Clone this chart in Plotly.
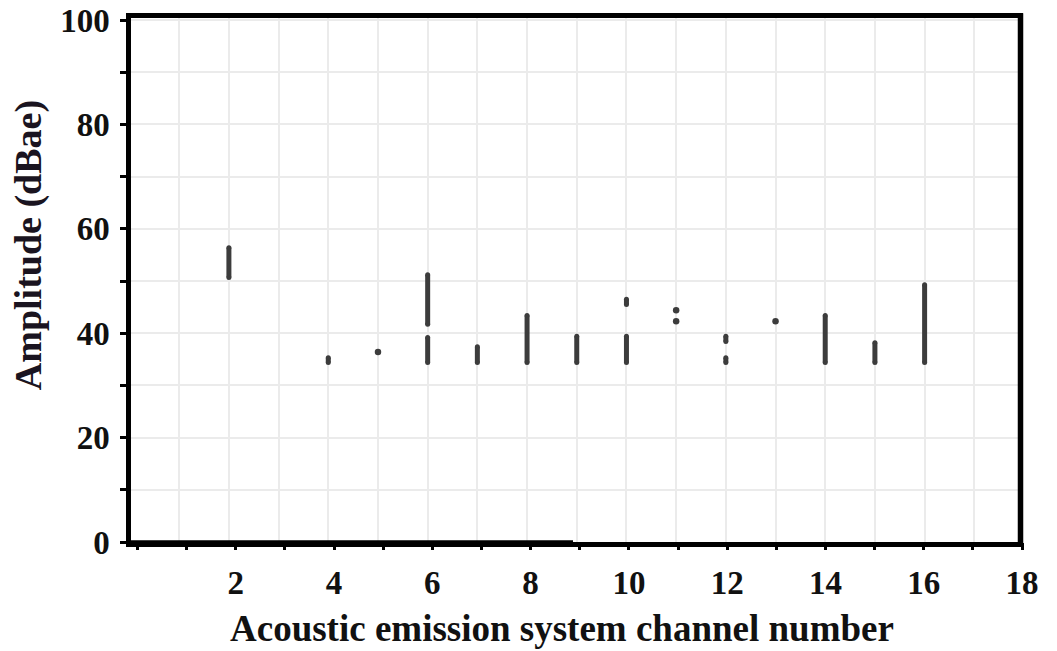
import plotly.graph_objects as go

# Amplitude bands recorded on each acoustic emission channel (dBae).
# Each entry is one continuous band: channel, lowest hit, highest hit.
band_channel = [2, 4, 6, 6, 7, 8, 9, 10, 10, 12, 12, 14, 15, 16]
band_low = [50.7, 34.4, 41.7, 34.4, 34.4, 34.4, 34.4, 34.4, 45.5, 34.4, 38.4, 34.4, 34.4, 34.4]
band_high = [56.4, 35.3, 51.2, 39.2, 37.4, 43.4, 39.4, 39.4, 46.5, 35.3, 39.4, 43.4, 38.2, 49.3]

# Isolated single hits
dot_channel = [5, 11, 11, 13]
dot_amp = [36.4, 44.4, 42.3, 42.3]

x_tick_vals = [2, 4, 6, 8, 10, 12, 14, 16, 18]
x_minor_vals = list(range(0, 19))
y_tick_vals = [0, 10, 20, 30, 40, 50, 60, 70, 80, 90, 100]
y_tick_text = ["0", "", "20", "", "40", "", "60", "", "80", "", "100"]

x_title = "Acoustic emission system channel number"
y_title = "Amplitude (dBae)"

MARK = "#3c3c3c"
FONT = "Liberation Serif"

seg_x, seg_y = [], []
cap_x, cap_y = [], []
for c, lo, hi in zip(band_channel, band_low, band_high):
    seg_x += [c, c, None]
    seg_y += [lo, hi, None]
    cap_x += [c, c]
    cap_y += [lo, hi]

fig = go.Figure()
fig.add_trace(go.Scatter(x=seg_x, y=seg_y, mode="lines",
                         line=dict(color=MARK, width=5), hoverinfo="skip",
                         showlegend=False))
fig.add_trace(go.Scatter(x=cap_x, y=cap_y, mode="markers",
                         marker=dict(color=MARK, size=5, symbol="circle",
                                     line=dict(width=0)),
                         hoverinfo="skip", showlegend=False))
fig.add_trace(go.Scatter(x=dot_channel, y=dot_amp, mode="markers",
                         marker=dict(color=MARK, size=6.5, symbol="circle",
                                     line=dict(width=0)),
                         showlegend=False))

# Tick-only axis sharing the plot area (its ticks sit slightly right of the grid)
fig.add_trace(go.Scatter(x=[None], y=[None], xaxis="x2", showlegend=False))

fig.update_layout(
    width=1057, height=651,
    margin=dict(l=131, r=34, t=18, b=109, autoexpand=False),
    paper_bgcolor="white", plot_bgcolor="white",
    xaxis=dict(
        range=[0.03, 17.98], dtick=1, tick0=0, automargin=False,
        showgrid=True, gridcolor="#ebebeb", gridwidth=1.5,
        zeroline=False, showticklabels=False, ticks="",
        showline=True, linecolor="black", linewidth=4.5, mirror=True,
    ),
    xaxis2=dict(
        overlaying="x", anchor="y", side="bottom", automargin=False,
        range=[-0.132, 18.02],
        tickmode="array", tickvals=x_tick_vals,
        showgrid=False, zeroline=False, showline=False,
        ticks="", showticklabels=True,
        tickfont=dict(family=FONT, size=33, color="#111111", weight="bold"),
        ticklabelstandoff=18,
        minor=dict(tickmode="array", tickvals=x_minor_vals, ticks="outside",
                   ticklen=7, tickwidth=3, tickcolor="black"),
    ),
    yaxis=dict(
        range=[0, 100.4], automargin=False,
        tickmode="array", tickvals=y_tick_vals, ticktext=y_tick_text,
        showgrid=True, gridcolor="#ebebeb", gridwidth=1.5,
        zeroline=False,
        ticks="outside", ticklen=6, tickwidth=3, tickcolor="black",
        showline=True, linecolor="black", linewidth=4.5, mirror=False,
        tickfont=dict(family=FONT, size=33, color="#111111", weight="bold"),
        ticklabelstandoff=4,
    ),
    annotations=[
        dict(text=x_title, xref="paper", yref="paper", x=0.483, y=-0.165,
             xanchor="center", yanchor="middle", showarrow=False, borderpad=0,
             font=dict(family=FONT, size=37, color="#111111", weight="bold")),
        dict(text=y_title, xref="paper", yref="paper", x=-0.114, y=0.567,
             xanchor="center", yanchor="middle", showarrow=False, textangle=-90,
             borderpad=0,
             font=dict(family=FONT, size=38, color="#1a1420", weight="bold")),
    ],
    shapes=[
        # right-hand frame edge
        dict(type="line", xref="paper", yref="paper",
             x0=0.9972, x1=0.9972, y0=-0.004, y1=1.009,
             line=dict(color="black", width=5.5)),
        # heavier stretch along the left half of the bottom edge
        dict(type="line", xref="paper", yref="paper",
             x0=-0.002, x1=0.4955, y0=0.0015, y1=0.0015,
             line=dict(color="black", width=2)),
    ],
)

fig.write_html("out.html")
